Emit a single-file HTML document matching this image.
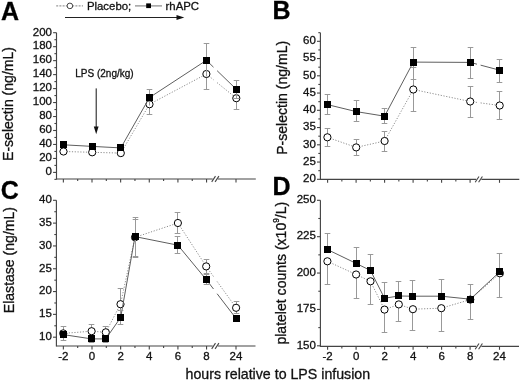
<!DOCTYPE html>
<html><head><meta charset="utf-8"><style>
html,body{margin:0;padding:0;background:#fff;width:520px;height:380px;overflow:hidden;}
body{position:relative;font-family:"Liberation Sans", sans-serif;}
text{stroke:#111;stroke-width:0.3px;paint-order:stroke;}
svg{filter:grayscale(1);}
</style></head><body>
<svg width="520" height="380" viewBox="0 0 520 380" style="position:absolute;left:0;top:0">
<g font-family='"Liberation Sans", sans-serif' fill="#111">
<line x1="56.5" y1="32.7" x2="56.5" y2="179.57" stroke="#444" stroke-width="1.15" />
<line x1="53.1" y1="172.4" x2="56.5" y2="172.4" stroke="#444" stroke-width="1.1" />
<text x="52" y="175.2" font-size="11.5" text-anchor="end" font-weight="normal" >0</text>
<line x1="53.1" y1="158.43" x2="56.5" y2="158.43" stroke="#444" stroke-width="1.1" />
<text x="52" y="161.23" font-size="11.5" text-anchor="end" font-weight="normal" >20</text>
<line x1="53.1" y1="144.46" x2="56.5" y2="144.46" stroke="#444" stroke-width="1.1" />
<text x="52" y="147.26" font-size="11.5" text-anchor="end" font-weight="normal" >40</text>
<line x1="53.1" y1="130.49" x2="56.5" y2="130.49" stroke="#444" stroke-width="1.1" />
<text x="52" y="133.29" font-size="11.5" text-anchor="end" font-weight="normal" >60</text>
<line x1="53.1" y1="116.52" x2="56.5" y2="116.52" stroke="#444" stroke-width="1.1" />
<text x="52" y="119.32" font-size="11.5" text-anchor="end" font-weight="normal" >80</text>
<line x1="53.1" y1="102.55" x2="56.5" y2="102.55" stroke="#444" stroke-width="1.1" />
<text x="52" y="105.35" font-size="11.5" text-anchor="end" font-weight="normal" >100</text>
<line x1="53.1" y1="88.58" x2="56.5" y2="88.58" stroke="#444" stroke-width="1.1" />
<text x="52" y="91.38" font-size="11.5" text-anchor="end" font-weight="normal" >120</text>
<line x1="53.1" y1="74.61" x2="56.5" y2="74.61" stroke="#444" stroke-width="1.1" />
<text x="52" y="77.41" font-size="11.5" text-anchor="end" font-weight="normal" >140</text>
<line x1="53.1" y1="60.64" x2="56.5" y2="60.64" stroke="#444" stroke-width="1.1" />
<text x="52" y="63.44" font-size="11.5" text-anchor="end" font-weight="normal" >160</text>
<line x1="53.1" y1="46.67" x2="56.5" y2="46.67" stroke="#444" stroke-width="1.1" />
<text x="52" y="49.47" font-size="11.5" text-anchor="end" font-weight="normal" >180</text>
<line x1="53.1" y1="32.7" x2="56.5" y2="32.7" stroke="#444" stroke-width="1.1" />
<text x="52" y="35.5" font-size="11.5" text-anchor="end" font-weight="normal" >200</text>
<line x1="54.4" y1="179.39" x2="56.5" y2="179.39" stroke="#444" stroke-width="1.1" />
<line x1="54.4" y1="165.41" x2="56.5" y2="165.41" stroke="#444" stroke-width="1.1" />
<line x1="54.4" y1="151.44" x2="56.5" y2="151.44" stroke="#444" stroke-width="1.1" />
<line x1="54.4" y1="137.48" x2="56.5" y2="137.48" stroke="#444" stroke-width="1.1" />
<line x1="54.4" y1="123.5" x2="56.5" y2="123.5" stroke="#444" stroke-width="1.1" />
<line x1="54.4" y1="109.53" x2="56.5" y2="109.53" stroke="#444" stroke-width="1.1" />
<line x1="54.4" y1="95.56" x2="56.5" y2="95.56" stroke="#444" stroke-width="1.1" />
<line x1="54.4" y1="81.59" x2="56.5" y2="81.59" stroke="#444" stroke-width="1.1" />
<line x1="54.4" y1="67.62" x2="56.5" y2="67.62" stroke="#444" stroke-width="1.1" />
<line x1="54.4" y1="53.66" x2="56.5" y2="53.66" stroke="#444" stroke-width="1.1" />
<line x1="54.4" y1="39.69" x2="56.5" y2="39.69" stroke="#444" stroke-width="1.1" />
<line x1="56.5" y1="179" x2="212.7" y2="179" stroke="#444" stroke-width="1.15" />
<line x1="217.9" y1="179" x2="255.8" y2="179" stroke="#444" stroke-width="1.15" />
<line x1="211.7" y1="181.9" x2="215.5" y2="176.1" stroke="#444" stroke-width="1.1" />
<line x1="215.1" y1="181.9" x2="218.9" y2="176.1" stroke="#444" stroke-width="1.1" />
<line x1="63.36" y1="179" x2="63.36" y2="182.4" stroke="#444" stroke-width="1.1" />
<line x1="77.68" y1="179" x2="77.68" y2="181" stroke="#444" stroke-width="1.1" />
<line x1="92" y1="179" x2="92" y2="182.4" stroke="#444" stroke-width="1.1" />
<line x1="106.32" y1="179" x2="106.32" y2="181" stroke="#444" stroke-width="1.1" />
<line x1="120.64" y1="179" x2="120.64" y2="182.4" stroke="#444" stroke-width="1.1" />
<line x1="134.96" y1="179" x2="134.96" y2="181" stroke="#444" stroke-width="1.1" />
<line x1="149.28" y1="179" x2="149.28" y2="182.4" stroke="#444" stroke-width="1.1" />
<line x1="163.6" y1="179" x2="163.6" y2="181" stroke="#444" stroke-width="1.1" />
<line x1="177.92" y1="179" x2="177.92" y2="182.4" stroke="#444" stroke-width="1.1" />
<line x1="192.24" y1="179" x2="192.24" y2="181" stroke="#444" stroke-width="1.1" />
<line x1="206.56" y1="179" x2="206.56" y2="182.4" stroke="#444" stroke-width="1.1" />
<line x1="236" y1="179" x2="236" y2="182.4" stroke="#444" stroke-width="1.1" />
<line x1="63.5" y1="151.5" x2="92.2" y2="152.3" stroke="#8c8c8c" stroke-width="1" stroke-dasharray="1.2 1.6"/>
<line x1="92.2" y1="152.3" x2="120.8" y2="153.1" stroke="#8c8c8c" stroke-width="1" stroke-dasharray="1.2 1.6"/>
<line x1="120.8" y1="153.1" x2="149.5" y2="104.25" stroke="#8c8c8c" stroke-width="1" stroke-dasharray="1.2 1.6"/>
<line x1="149.5" y1="104.25" x2="206.4" y2="74" stroke="#8c8c8c" stroke-width="1" stroke-dasharray="1.2 1.6"/>
<line x1="206.4" y1="74" x2="213.5" y2="79.75" stroke="#8c8c8c" stroke-width="1" stroke-dasharray="1.2 1.6"/>
<line x1="217.1" y1="82.66" x2="236.3" y2="98.2" stroke="#8c8c8c" stroke-width="1" stroke-dasharray="1.2 1.6"/>
<line x1="149.5" y1="94.5" x2="149.5" y2="114.5" stroke="#999" stroke-width="1" />
<line x1="146.7" y1="94.5" x2="152.3" y2="94.5" stroke="#999" stroke-width="1" />
<line x1="146.7" y1="114.5" x2="152.3" y2="114.5" stroke="#999" stroke-width="1" />
<line x1="206.5" y1="58.5" x2="206.5" y2="89.5" stroke="#999" stroke-width="1" />
<line x1="203.7" y1="58.5" x2="209.3" y2="58.5" stroke="#999" stroke-width="1" />
<line x1="203.7" y1="89.5" x2="209.3" y2="89.5" stroke="#999" stroke-width="1" />
<line x1="236.5" y1="86.5" x2="236.5" y2="109.5" stroke="#999" stroke-width="1" />
<line x1="233.7" y1="86.5" x2="239.3" y2="86.5" stroke="#999" stroke-width="1" />
<line x1="233.7" y1="109.5" x2="239.3" y2="109.5" stroke="#999" stroke-width="1" />
<circle cx="63.5" cy="151.5" r="3.6" fill="#fff" stroke="#000" stroke-width="1"/>
<circle cx="92.2" cy="152.3" r="3.6" fill="#fff" stroke="#000" stroke-width="1"/>
<circle cx="120.8" cy="153.1" r="3.6" fill="#fff" stroke="#000" stroke-width="1"/>
<circle cx="149.5" cy="104.25" r="3.6" fill="#fff" stroke="#000" stroke-width="1"/>
<circle cx="206.4" cy="74" r="3.6" fill="#fff" stroke="#000" stroke-width="1"/>
<circle cx="236.3" cy="98.2" r="3.6" fill="#fff" stroke="#000" stroke-width="1"/>
<line x1="63.5" y1="144.8" x2="92.2" y2="146.4" stroke="#5e5e5e" stroke-width="1" />
<line x1="92.2" y1="146.4" x2="120.8" y2="147.9" stroke="#5e5e5e" stroke-width="1" />
<line x1="120.8" y1="147.9" x2="149.5" y2="97.5" stroke="#5e5e5e" stroke-width="1" />
<line x1="149.5" y1="97.5" x2="206.4" y2="60.3" stroke="#5e5e5e" stroke-width="1" />
<line x1="206.4" y1="60.3" x2="213.5" y2="67.19" stroke="#5e5e5e" stroke-width="1" />
<line x1="217.1" y1="70.68" x2="236.3" y2="89.3" stroke="#5e5e5e" stroke-width="1" />
<line x1="149.5" y1="89.5" x2="149.5" y2="105.5" stroke="#999" stroke-width="1" />
<line x1="146.7" y1="89.5" x2="152.3" y2="89.5" stroke="#999" stroke-width="1" />
<line x1="206.5" y1="43.5" x2="206.5" y2="76.5" stroke="#999" stroke-width="1" />
<line x1="203.7" y1="43.5" x2="209.3" y2="43.5" stroke="#999" stroke-width="1" />
<line x1="236.5" y1="80.5" x2="236.5" y2="98.5" stroke="#999" stroke-width="1" />
<line x1="233.7" y1="80.5" x2="239.3" y2="80.5" stroke="#999" stroke-width="1" />
<line x1="233.7" y1="98.5" x2="239.3" y2="98.5" stroke="#999" stroke-width="1" />
<rect x="60" y="141" width="7" height="7" fill="#000"/>
<rect x="89" y="143" width="7" height="7" fill="#000"/>
<rect x="117" y="144" width="7" height="7" fill="#000"/>
<rect x="146" y="94" width="7" height="7" fill="#000"/>
<rect x="203" y="57" width="7" height="7" fill="#000"/>
<rect x="233" y="86" width="7" height="7" fill="#000"/>
<text x="75.3" y="76.7" font-size="10" text-anchor="start" font-weight="normal" >LPS (2ng/kg)</text>
<line x1="96.2" y1="88.4" x2="96.2" y2="128" stroke="#111" stroke-width="1" />
<path d="M93.8,126.4 L98.6,126.4 L96.2,134.2 Z" fill="#111"/>
<line x1="320.4" y1="32.68" x2="320.4" y2="179.97" stroke="#444" stroke-width="1.15" />
<line x1="317" y1="179.3" x2="320.4" y2="179.3" stroke="#444" stroke-width="1.1" />
<text x="315.9" y="182.1" font-size="11.5" text-anchor="end" font-weight="normal" >20</text>
<line x1="317" y1="162.05" x2="320.4" y2="162.05" stroke="#444" stroke-width="1.1" />
<text x="315.9" y="164.85" font-size="11.5" text-anchor="end" font-weight="normal" >25</text>
<line x1="317" y1="144.8" x2="320.4" y2="144.8" stroke="#444" stroke-width="1.1" />
<text x="315.9" y="147.6" font-size="11.5" text-anchor="end" font-weight="normal" >30</text>
<line x1="317" y1="127.55" x2="320.4" y2="127.55" stroke="#444" stroke-width="1.1" />
<text x="315.9" y="130.35" font-size="11.5" text-anchor="end" font-weight="normal" >35</text>
<line x1="317" y1="110.3" x2="320.4" y2="110.3" stroke="#444" stroke-width="1.1" />
<text x="315.9" y="113.1" font-size="11.5" text-anchor="end" font-weight="normal" >40</text>
<line x1="317" y1="93.05" x2="320.4" y2="93.05" stroke="#444" stroke-width="1.1" />
<text x="315.9" y="95.85" font-size="11.5" text-anchor="end" font-weight="normal" >45</text>
<line x1="317" y1="75.8" x2="320.4" y2="75.8" stroke="#444" stroke-width="1.1" />
<text x="315.9" y="78.6" font-size="11.5" text-anchor="end" font-weight="normal" >50</text>
<line x1="317" y1="58.55" x2="320.4" y2="58.55" stroke="#444" stroke-width="1.1" />
<text x="315.9" y="61.35" font-size="11.5" text-anchor="end" font-weight="normal" >55</text>
<line x1="317" y1="41.3" x2="320.4" y2="41.3" stroke="#444" stroke-width="1.1" />
<text x="315.9" y="44.1" font-size="11.5" text-anchor="end" font-weight="normal" >60</text>
<line x1="318.3" y1="170.68" x2="320.4" y2="170.68" stroke="#444" stroke-width="1.1" />
<line x1="318.3" y1="153.43" x2="320.4" y2="153.43" stroke="#444" stroke-width="1.1" />
<line x1="318.3" y1="136.18" x2="320.4" y2="136.18" stroke="#444" stroke-width="1.1" />
<line x1="318.3" y1="118.93" x2="320.4" y2="118.93" stroke="#444" stroke-width="1.1" />
<line x1="318.3" y1="101.68" x2="320.4" y2="101.68" stroke="#444" stroke-width="1.1" />
<line x1="318.3" y1="84.43" x2="320.4" y2="84.43" stroke="#444" stroke-width="1.1" />
<line x1="318.3" y1="67.18" x2="320.4" y2="67.18" stroke="#444" stroke-width="1.1" />
<line x1="318.3" y1="49.93" x2="320.4" y2="49.93" stroke="#444" stroke-width="1.1" />
<line x1="318.3" y1="32.68" x2="320.4" y2="32.68" stroke="#444" stroke-width="1.1" />
<line x1="320.4" y1="179.4" x2="476.2" y2="179.4" stroke="#444" stroke-width="1.15" />
<line x1="481.4" y1="179.4" x2="519.3" y2="179.4" stroke="#444" stroke-width="1.15" />
<line x1="475.2" y1="182.3" x2="479" y2="176.5" stroke="#444" stroke-width="1.1" />
<line x1="478.6" y1="182.3" x2="482.4" y2="176.5" stroke="#444" stroke-width="1.1" />
<line x1="327.6" y1="179.4" x2="327.6" y2="182.8" stroke="#444" stroke-width="1.1" />
<line x1="341.85" y1="179.4" x2="341.85" y2="181.4" stroke="#444" stroke-width="1.1" />
<line x1="356.1" y1="179.4" x2="356.1" y2="182.8" stroke="#444" stroke-width="1.1" />
<line x1="370.35" y1="179.4" x2="370.35" y2="181.4" stroke="#444" stroke-width="1.1" />
<line x1="384.6" y1="179.4" x2="384.6" y2="182.8" stroke="#444" stroke-width="1.1" />
<line x1="398.85" y1="179.4" x2="398.85" y2="181.4" stroke="#444" stroke-width="1.1" />
<line x1="413.1" y1="179.4" x2="413.1" y2="182.8" stroke="#444" stroke-width="1.1" />
<line x1="427.35" y1="179.4" x2="427.35" y2="181.4" stroke="#444" stroke-width="1.1" />
<line x1="441.6" y1="179.4" x2="441.6" y2="182.8" stroke="#444" stroke-width="1.1" />
<line x1="455.85" y1="179.4" x2="455.85" y2="181.4" stroke="#444" stroke-width="1.1" />
<line x1="470.1" y1="179.4" x2="470.1" y2="182.8" stroke="#444" stroke-width="1.1" />
<line x1="499.5" y1="179.4" x2="499.5" y2="182.8" stroke="#444" stroke-width="1.1" />
<line x1="327.4" y1="137.3" x2="356.2" y2="147.4" stroke="#8c8c8c" stroke-width="1" stroke-dasharray="1.2 1.6"/>
<line x1="356.2" y1="147.4" x2="384.6" y2="141" stroke="#8c8c8c" stroke-width="1" stroke-dasharray="1.2 1.6"/>
<line x1="384.6" y1="141" x2="413.3" y2="89.5" stroke="#8c8c8c" stroke-width="1" stroke-dasharray="1.2 1.6"/>
<line x1="413.3" y1="89.5" x2="470.2" y2="101.5" stroke="#8c8c8c" stroke-width="1" stroke-dasharray="1.2 1.6"/>
<line x1="470.2" y1="101.5" x2="477" y2="102.42" stroke="#8c8c8c" stroke-width="1" stroke-dasharray="1.2 1.6"/>
<line x1="480.6" y1="102.91" x2="499.7" y2="105.5" stroke="#8c8c8c" stroke-width="1" stroke-dasharray="1.2 1.6"/>
<line x1="327.5" y1="128.5" x2="327.5" y2="146.5" stroke="#999" stroke-width="1" />
<line x1="324.7" y1="128.5" x2="330.3" y2="128.5" stroke="#999" stroke-width="1" />
<line x1="324.7" y1="146.5" x2="330.3" y2="146.5" stroke="#999" stroke-width="1" />
<line x1="356.5" y1="139.5" x2="356.5" y2="155.5" stroke="#999" stroke-width="1" />
<line x1="353.7" y1="139.5" x2="359.3" y2="139.5" stroke="#999" stroke-width="1" />
<line x1="353.7" y1="155.5" x2="359.3" y2="155.5" stroke="#999" stroke-width="1" />
<line x1="384.5" y1="131.5" x2="384.5" y2="151.5" stroke="#999" stroke-width="1" />
<line x1="381.7" y1="131.5" x2="387.3" y2="131.5" stroke="#999" stroke-width="1" />
<line x1="381.7" y1="151.5" x2="387.3" y2="151.5" stroke="#999" stroke-width="1" />
<line x1="413.5" y1="67.5" x2="413.5" y2="111.5" stroke="#999" stroke-width="1" />
<line x1="410.7" y1="67.5" x2="416.3" y2="67.5" stroke="#999" stroke-width="1" />
<line x1="410.7" y1="111.5" x2="416.3" y2="111.5" stroke="#999" stroke-width="1" />
<line x1="470.5" y1="86.5" x2="470.5" y2="117.5" stroke="#999" stroke-width="1" />
<line x1="467.7" y1="86.5" x2="473.3" y2="86.5" stroke="#999" stroke-width="1" />
<line x1="467.7" y1="117.5" x2="473.3" y2="117.5" stroke="#999" stroke-width="1" />
<line x1="499.5" y1="91.5" x2="499.5" y2="119.5" stroke="#999" stroke-width="1" />
<line x1="496.7" y1="91.5" x2="502.3" y2="91.5" stroke="#999" stroke-width="1" />
<line x1="496.7" y1="119.5" x2="502.3" y2="119.5" stroke="#999" stroke-width="1" />
<circle cx="327.4" cy="137.3" r="3.6" fill="#fff" stroke="#000" stroke-width="1"/>
<circle cx="356.2" cy="147.4" r="3.6" fill="#fff" stroke="#000" stroke-width="1"/>
<circle cx="384.6" cy="141" r="3.6" fill="#fff" stroke="#000" stroke-width="1"/>
<circle cx="413.3" cy="89.5" r="3.6" fill="#fff" stroke="#000" stroke-width="1"/>
<circle cx="470.2" cy="101.5" r="3.6" fill="#fff" stroke="#000" stroke-width="1"/>
<circle cx="499.7" cy="105.5" r="3.6" fill="#fff" stroke="#000" stroke-width="1"/>
<line x1="327.4" y1="104.6" x2="356.2" y2="111.6" stroke="#5e5e5e" stroke-width="1" />
<line x1="356.2" y1="111.6" x2="384.6" y2="116.2" stroke="#5e5e5e" stroke-width="1" />
<line x1="384.6" y1="116.2" x2="413.3" y2="62.1" stroke="#5e5e5e" stroke-width="1" />
<line x1="413.3" y1="62.1" x2="470.2" y2="62.4" stroke="#5e5e5e" stroke-width="1" />
<line x1="470.2" y1="62.4" x2="477" y2="64.2" stroke="#5e5e5e" stroke-width="1" />
<line x1="480.6" y1="65.15" x2="499.7" y2="70.2" stroke="#5e5e5e" stroke-width="1" />
<line x1="327.5" y1="94.5" x2="327.5" y2="114.5" stroke="#999" stroke-width="1" />
<line x1="324.7" y1="94.5" x2="330.3" y2="94.5" stroke="#999" stroke-width="1" />
<line x1="324.7" y1="114.5" x2="330.3" y2="114.5" stroke="#999" stroke-width="1" />
<line x1="356.5" y1="100.5" x2="356.5" y2="121.5" stroke="#999" stroke-width="1" />
<line x1="353.7" y1="100.5" x2="359.3" y2="100.5" stroke="#999" stroke-width="1" />
<line x1="353.7" y1="121.5" x2="359.3" y2="121.5" stroke="#999" stroke-width="1" />
<line x1="384.5" y1="108.5" x2="384.5" y2="123.5" stroke="#999" stroke-width="1" />
<line x1="381.7" y1="108.5" x2="387.3" y2="108.5" stroke="#999" stroke-width="1" />
<line x1="381.7" y1="123.5" x2="387.3" y2="123.5" stroke="#999" stroke-width="1" />
<line x1="413.5" y1="47.5" x2="413.5" y2="79.5" stroke="#999" stroke-width="1" />
<line x1="410.7" y1="47.5" x2="416.3" y2="47.5" stroke="#999" stroke-width="1" />
<line x1="410.7" y1="79.5" x2="416.3" y2="79.5" stroke="#999" stroke-width="1" />
<line x1="470.5" y1="47.5" x2="470.5" y2="78.5" stroke="#999" stroke-width="1" />
<line x1="467.7" y1="47.5" x2="473.3" y2="47.5" stroke="#999" stroke-width="1" />
<line x1="467.7" y1="78.5" x2="473.3" y2="78.5" stroke="#999" stroke-width="1" />
<line x1="499.5" y1="59.5" x2="499.5" y2="82.5" stroke="#999" stroke-width="1" />
<line x1="496.7" y1="59.5" x2="502.3" y2="59.5" stroke="#999" stroke-width="1" />
<line x1="496.7" y1="82.5" x2="502.3" y2="82.5" stroke="#999" stroke-width="1" />
<rect x="324" y="101" width="7" height="7" fill="#000"/>
<rect x="353" y="108" width="7" height="7" fill="#000"/>
<rect x="381" y="113" width="7" height="7" fill="#000"/>
<rect x="410" y="59" width="7" height="7" fill="#000"/>
<rect x="467" y="59" width="7" height="7" fill="#000"/>
<rect x="496" y="67" width="7" height="7" fill="#000"/>
<line x1="56.4" y1="200.31" x2="56.4" y2="346.57" stroke="#444" stroke-width="1.15" />
<line x1="53" y1="337.2" x2="56.4" y2="337.2" stroke="#444" stroke-width="1.1" />
<text x="51.9" y="340" font-size="11.5" text-anchor="end" font-weight="normal" >10</text>
<line x1="53" y1="314.38" x2="56.4" y2="314.38" stroke="#444" stroke-width="1.1" />
<text x="51.9" y="317.19" font-size="11.5" text-anchor="end" font-weight="normal" >15</text>
<line x1="53" y1="291.57" x2="56.4" y2="291.57" stroke="#444" stroke-width="1.1" />
<text x="51.9" y="294.37" font-size="11.5" text-anchor="end" font-weight="normal" >20</text>
<line x1="53" y1="268.75" x2="56.4" y2="268.75" stroke="#444" stroke-width="1.1" />
<text x="51.9" y="271.56" font-size="11.5" text-anchor="end" font-weight="normal" >25</text>
<line x1="53" y1="245.94" x2="56.4" y2="245.94" stroke="#444" stroke-width="1.1" />
<text x="51.9" y="248.74" font-size="11.5" text-anchor="end" font-weight="normal" >30</text>
<line x1="53" y1="223.12" x2="56.4" y2="223.12" stroke="#444" stroke-width="1.1" />
<text x="51.9" y="225.93" font-size="11.5" text-anchor="end" font-weight="normal" >35</text>
<line x1="53" y1="200.31" x2="56.4" y2="200.31" stroke="#444" stroke-width="1.1" />
<text x="51.9" y="203.11" font-size="11.5" text-anchor="end" font-weight="normal" >40</text>
<line x1="54.3" y1="325.79" x2="56.4" y2="325.79" stroke="#444" stroke-width="1.1" />
<line x1="54.3" y1="302.98" x2="56.4" y2="302.98" stroke="#444" stroke-width="1.1" />
<line x1="54.3" y1="280.16" x2="56.4" y2="280.16" stroke="#444" stroke-width="1.1" />
<line x1="54.3" y1="257.35" x2="56.4" y2="257.35" stroke="#444" stroke-width="1.1" />
<line x1="54.3" y1="234.53" x2="56.4" y2="234.53" stroke="#444" stroke-width="1.1" />
<line x1="54.3" y1="211.72" x2="56.4" y2="211.72" stroke="#444" stroke-width="1.1" />
<line x1="56.4" y1="346" x2="212.7" y2="346" stroke="#444" stroke-width="1.15" />
<line x1="217.9" y1="346" x2="255.5" y2="346" stroke="#444" stroke-width="1.15" />
<line x1="211.7" y1="348.9" x2="215.5" y2="343.1" stroke="#444" stroke-width="1.1" />
<line x1="215.1" y1="348.9" x2="218.9" y2="343.1" stroke="#444" stroke-width="1.1" />
<line x1="63.36" y1="346" x2="63.36" y2="349.4" stroke="#444" stroke-width="1.1" />
<line x1="77.68" y1="346" x2="77.68" y2="348" stroke="#444" stroke-width="1.1" />
<line x1="92" y1="346" x2="92" y2="349.4" stroke="#444" stroke-width="1.1" />
<line x1="106.32" y1="346" x2="106.32" y2="348" stroke="#444" stroke-width="1.1" />
<line x1="120.64" y1="346" x2="120.64" y2="349.4" stroke="#444" stroke-width="1.1" />
<line x1="134.96" y1="346" x2="134.96" y2="348" stroke="#444" stroke-width="1.1" />
<line x1="149.28" y1="346" x2="149.28" y2="349.4" stroke="#444" stroke-width="1.1" />
<line x1="163.6" y1="346" x2="163.6" y2="348" stroke="#444" stroke-width="1.1" />
<line x1="177.92" y1="346" x2="177.92" y2="349.4" stroke="#444" stroke-width="1.1" />
<line x1="192.24" y1="346" x2="192.24" y2="348" stroke="#444" stroke-width="1.1" />
<line x1="206.56" y1="346" x2="206.56" y2="349.4" stroke="#444" stroke-width="1.1" />
<line x1="236" y1="346" x2="236" y2="349.4" stroke="#444" stroke-width="1.1" />
<text x="63.36" y="360" font-size="11.5" text-anchor="middle" font-weight="normal" >-2</text>
<text x="92" y="360" font-size="11.5" text-anchor="middle" font-weight="normal" >0</text>
<text x="120.64" y="360" font-size="11.5" text-anchor="middle" font-weight="normal" >2</text>
<text x="149.28" y="360" font-size="11.5" text-anchor="middle" font-weight="normal" >4</text>
<text x="177.92" y="360" font-size="11.5" text-anchor="middle" font-weight="normal" >6</text>
<text x="206.56" y="360" font-size="11.5" text-anchor="middle" font-weight="normal" >8</text>
<text x="236" y="360" font-size="11.5" text-anchor="middle" font-weight="normal" >24</text>
<line x1="63.2" y1="333.4" x2="91.6" y2="331.2" stroke="#8c8c8c" stroke-width="1" stroke-dasharray="1.2 1.6"/>
<line x1="91.6" y1="331.2" x2="105.8" y2="332.3" stroke="#8c8c8c" stroke-width="1" stroke-dasharray="1.2 1.6"/>
<line x1="105.8" y1="332.3" x2="120.5" y2="304.2" stroke="#8c8c8c" stroke-width="1" stroke-dasharray="1.2 1.6"/>
<line x1="120.5" y1="304.2" x2="135" y2="237.3" stroke="#8c8c8c" stroke-width="1" stroke-dasharray="1.2 1.6"/>
<line x1="135" y1="237.3" x2="177.9" y2="223" stroke="#8c8c8c" stroke-width="1" stroke-dasharray="1.2 1.6"/>
<line x1="177.9" y1="223" x2="206.2" y2="266.4" stroke="#8c8c8c" stroke-width="1" stroke-dasharray="1.2 1.6"/>
<line x1="206.2" y1="266.4" x2="213.5" y2="276.51" stroke="#8c8c8c" stroke-width="1" stroke-dasharray="1.2 1.6"/>
<line x1="217.1" y1="281.49" x2="236.1" y2="307.8" stroke="#8c8c8c" stroke-width="1" stroke-dasharray="1.2 1.6"/>
<line x1="63.5" y1="326.5" x2="63.5" y2="340.5" stroke="#999" stroke-width="1" />
<line x1="60.7" y1="326.5" x2="66.3" y2="326.5" stroke="#999" stroke-width="1" />
<line x1="60.7" y1="340.5" x2="66.3" y2="340.5" stroke="#999" stroke-width="1" />
<line x1="91.5" y1="324.5" x2="91.5" y2="337.5" stroke="#999" stroke-width="1" />
<line x1="88.7" y1="324.5" x2="94.3" y2="324.5" stroke="#999" stroke-width="1" />
<line x1="88.7" y1="337.5" x2="94.3" y2="337.5" stroke="#999" stroke-width="1" />
<line x1="105.5" y1="326.5" x2="105.5" y2="337.5" stroke="#999" stroke-width="1" />
<line x1="102.7" y1="326.5" x2="108.3" y2="326.5" stroke="#999" stroke-width="1" />
<line x1="102.7" y1="337.5" x2="108.3" y2="337.5" stroke="#999" stroke-width="1" />
<line x1="120.5" y1="288.5" x2="120.5" y2="320.5" stroke="#999" stroke-width="1" />
<line x1="117.7" y1="288.5" x2="123.3" y2="288.5" stroke="#999" stroke-width="1" />
<line x1="117.7" y1="320.5" x2="123.3" y2="320.5" stroke="#999" stroke-width="1" />
<line x1="135.5" y1="219.5" x2="135.5" y2="257.5" stroke="#999" stroke-width="1" />
<line x1="132.7" y1="219.5" x2="138.3" y2="219.5" stroke="#999" stroke-width="1" />
<line x1="132.7" y1="257.5" x2="138.3" y2="257.5" stroke="#999" stroke-width="1" />
<line x1="177.5" y1="212.5" x2="177.5" y2="233.5" stroke="#999" stroke-width="1" />
<line x1="174.7" y1="212.5" x2="180.3" y2="212.5" stroke="#999" stroke-width="1" />
<line x1="174.7" y1="233.5" x2="180.3" y2="233.5" stroke="#999" stroke-width="1" />
<line x1="206.5" y1="259.5" x2="206.5" y2="273.5" stroke="#999" stroke-width="1" />
<line x1="203.7" y1="259.5" x2="209.3" y2="259.5" stroke="#999" stroke-width="1" />
<line x1="203.7" y1="273.5" x2="209.3" y2="273.5" stroke="#999" stroke-width="1" />
<line x1="236.5" y1="301.5" x2="236.5" y2="313.5" stroke="#999" stroke-width="1" />
<line x1="233.7" y1="301.5" x2="239.3" y2="301.5" stroke="#999" stroke-width="1" />
<line x1="233.7" y1="313.5" x2="239.3" y2="313.5" stroke="#999" stroke-width="1" />
<circle cx="63.2" cy="333.4" r="3.6" fill="#fff" stroke="#000" stroke-width="1"/>
<circle cx="91.6" cy="331.2" r="3.6" fill="#fff" stroke="#000" stroke-width="1"/>
<circle cx="105.8" cy="332.3" r="3.6" fill="#fff" stroke="#000" stroke-width="1"/>
<circle cx="120.5" cy="304.2" r="3.6" fill="#fff" stroke="#000" stroke-width="1"/>
<circle cx="135" cy="237.3" r="3.6" fill="#fff" stroke="#000" stroke-width="1"/>
<circle cx="177.9" cy="223" r="3.6" fill="#fff" stroke="#000" stroke-width="1"/>
<circle cx="206.2" cy="266.4" r="3.6" fill="#fff" stroke="#000" stroke-width="1"/>
<circle cx="236.1" cy="307.8" r="3.6" fill="#fff" stroke="#000" stroke-width="1"/>
<line x1="63.2" y1="334.6" x2="91.6" y2="338.9" stroke="#5e5e5e" stroke-width="1" />
<line x1="91.6" y1="338.9" x2="105.8" y2="338.9" stroke="#5e5e5e" stroke-width="1" />
<line x1="105.8" y1="338.9" x2="120.7" y2="317.4" stroke="#5e5e5e" stroke-width="1" />
<line x1="120.7" y1="317.4" x2="135" y2="236.6" stroke="#5e5e5e" stroke-width="1" />
<line x1="135" y1="236.6" x2="177.9" y2="245.2" stroke="#5e5e5e" stroke-width="1" />
<line x1="177.9" y1="245.2" x2="206.2" y2="279.5" stroke="#5e5e5e" stroke-width="1" />
<line x1="206.2" y1="279.5" x2="213.5" y2="289.01" stroke="#5e5e5e" stroke-width="1" />
<line x1="217.1" y1="293.71" x2="236.2" y2="318.6" stroke="#5e5e5e" stroke-width="1" />
<line x1="91.5" y1="335.5" x2="91.5" y2="342.5" stroke="#999" stroke-width="1" />
<line x1="88.7" y1="335.5" x2="94.3" y2="335.5" stroke="#999" stroke-width="1" />
<line x1="88.7" y1="342.5" x2="94.3" y2="342.5" stroke="#999" stroke-width="1" />
<line x1="105.5" y1="335.5" x2="105.5" y2="342.5" stroke="#999" stroke-width="1" />
<line x1="102.7" y1="335.5" x2="108.3" y2="335.5" stroke="#999" stroke-width="1" />
<line x1="102.7" y1="342.5" x2="108.3" y2="342.5" stroke="#999" stroke-width="1" />
<line x1="120.5" y1="310.5" x2="120.5" y2="324.5" stroke="#999" stroke-width="1" />
<line x1="117.7" y1="310.5" x2="123.3" y2="310.5" stroke="#999" stroke-width="1" />
<line x1="117.7" y1="324.5" x2="123.3" y2="324.5" stroke="#999" stroke-width="1" />
<line x1="135.5" y1="217.5" x2="135.5" y2="256.5" stroke="#999" stroke-width="1" />
<line x1="132.7" y1="217.5" x2="138.3" y2="217.5" stroke="#999" stroke-width="1" />
<line x1="132.7" y1="256.5" x2="138.3" y2="256.5" stroke="#999" stroke-width="1" />
<line x1="177.5" y1="236.5" x2="177.5" y2="253.5" stroke="#999" stroke-width="1" />
<line x1="174.7" y1="236.5" x2="180.3" y2="236.5" stroke="#999" stroke-width="1" />
<line x1="174.7" y1="253.5" x2="180.3" y2="253.5" stroke="#999" stroke-width="1" />
<line x1="206.5" y1="274.5" x2="206.5" y2="284.5" stroke="#999" stroke-width="1" />
<line x1="203.7" y1="274.5" x2="209.3" y2="274.5" stroke="#999" stroke-width="1" />
<line x1="203.7" y1="284.5" x2="209.3" y2="284.5" stroke="#999" stroke-width="1" />
<line x1="236.5" y1="315.5" x2="236.5" y2="321.5" stroke="#999" stroke-width="1" />
<line x1="233.7" y1="315.5" x2="239.3" y2="315.5" stroke="#999" stroke-width="1" />
<line x1="233.7" y1="321.5" x2="239.3" y2="321.5" stroke="#999" stroke-width="1" />
<rect x="60" y="331" width="7" height="7" fill="#000"/>
<rect x="88" y="335" width="7" height="7" fill="#000"/>
<rect x="102" y="335" width="7" height="7" fill="#000"/>
<rect x="117" y="314" width="7" height="7" fill="#000"/>
<rect x="132" y="233" width="7" height="7" fill="#000"/>
<rect x="174" y="242" width="7" height="7" fill="#000"/>
<rect x="203" y="276" width="7" height="7" fill="#000"/>
<rect x="233" y="315" width="7" height="7" fill="#000"/>
<line x1="320.4" y1="200.3" x2="320.4" y2="346.97" stroke="#444" stroke-width="1.15" />
<line x1="317" y1="345.8" x2="320.4" y2="345.8" stroke="#444" stroke-width="1.1" />
<text x="315.9" y="348.6" font-size="11.5" text-anchor="end" font-weight="normal" >150</text>
<line x1="317" y1="309.43" x2="320.4" y2="309.43" stroke="#444" stroke-width="1.1" />
<text x="315.9" y="312.23" font-size="11.5" text-anchor="end" font-weight="normal" >175</text>
<line x1="317" y1="273.05" x2="320.4" y2="273.05" stroke="#444" stroke-width="1.1" />
<text x="315.9" y="275.85" font-size="11.5" text-anchor="end" font-weight="normal" >200</text>
<line x1="317" y1="236.68" x2="320.4" y2="236.68" stroke="#444" stroke-width="1.1" />
<text x="315.9" y="239.48" font-size="11.5" text-anchor="end" font-weight="normal" >225</text>
<line x1="317" y1="200.3" x2="320.4" y2="200.3" stroke="#444" stroke-width="1.1" />
<text x="315.9" y="203.1" font-size="11.5" text-anchor="end" font-weight="normal" >250</text>
<line x1="318.3" y1="327.61" x2="320.4" y2="327.61" stroke="#444" stroke-width="1.1" />
<line x1="318.3" y1="291.24" x2="320.4" y2="291.24" stroke="#444" stroke-width="1.1" />
<line x1="318.3" y1="254.86" x2="320.4" y2="254.86" stroke="#444" stroke-width="1.1" />
<line x1="318.3" y1="218.49" x2="320.4" y2="218.49" stroke="#444" stroke-width="1.1" />
<line x1="320.4" y1="346.4" x2="476.2" y2="346.4" stroke="#444" stroke-width="1.15" />
<line x1="481.4" y1="346.4" x2="519" y2="346.4" stroke="#444" stroke-width="1.15" />
<line x1="475.2" y1="349.3" x2="479" y2="343.5" stroke="#444" stroke-width="1.1" />
<line x1="478.6" y1="349.3" x2="482.4" y2="343.5" stroke="#444" stroke-width="1.1" />
<line x1="327.6" y1="346.4" x2="327.6" y2="349.8" stroke="#444" stroke-width="1.1" />
<line x1="341.85" y1="346.4" x2="341.85" y2="348.4" stroke="#444" stroke-width="1.1" />
<line x1="356.1" y1="346.4" x2="356.1" y2="349.8" stroke="#444" stroke-width="1.1" />
<line x1="370.35" y1="346.4" x2="370.35" y2="348.4" stroke="#444" stroke-width="1.1" />
<line x1="384.6" y1="346.4" x2="384.6" y2="349.8" stroke="#444" stroke-width="1.1" />
<line x1="398.85" y1="346.4" x2="398.85" y2="348.4" stroke="#444" stroke-width="1.1" />
<line x1="413.1" y1="346.4" x2="413.1" y2="349.8" stroke="#444" stroke-width="1.1" />
<line x1="427.35" y1="346.4" x2="427.35" y2="348.4" stroke="#444" stroke-width="1.1" />
<line x1="441.6" y1="346.4" x2="441.6" y2="349.8" stroke="#444" stroke-width="1.1" />
<line x1="455.85" y1="346.4" x2="455.85" y2="348.4" stroke="#444" stroke-width="1.1" />
<line x1="470.1" y1="346.4" x2="470.1" y2="349.8" stroke="#444" stroke-width="1.1" />
<line x1="499.5" y1="346.4" x2="499.5" y2="349.8" stroke="#444" stroke-width="1.1" />
<text x="327.6" y="360" font-size="11.5" text-anchor="middle" font-weight="normal" >-2</text>
<text x="356.1" y="360" font-size="11.5" text-anchor="middle" font-weight="normal" >0</text>
<text x="384.6" y="360" font-size="11.5" text-anchor="middle" font-weight="normal" >2</text>
<text x="413.1" y="360" font-size="11.5" text-anchor="middle" font-weight="normal" >4</text>
<text x="441.6" y="360" font-size="11.5" text-anchor="middle" font-weight="normal" >6</text>
<text x="470.1" y="360" font-size="11.5" text-anchor="middle" font-weight="normal" >8</text>
<text x="499.5" y="360" font-size="11.5" text-anchor="middle" font-weight="normal" >24</text>
<line x1="327.4" y1="261.3" x2="356.1" y2="274.5" stroke="#8c8c8c" stroke-width="1" stroke-dasharray="1.2 1.6"/>
<line x1="356.1" y1="274.5" x2="370.5" y2="281.3" stroke="#8c8c8c" stroke-width="1" stroke-dasharray="1.2 1.6"/>
<line x1="370.5" y1="281.3" x2="384.5" y2="309.6" stroke="#8c8c8c" stroke-width="1" stroke-dasharray="1.2 1.6"/>
<line x1="384.5" y1="309.6" x2="398.8" y2="304.4" stroke="#8c8c8c" stroke-width="1" stroke-dasharray="1.2 1.6"/>
<line x1="398.8" y1="304.4" x2="412.9" y2="309.2" stroke="#8c8c8c" stroke-width="1" stroke-dasharray="1.2 1.6"/>
<line x1="412.9" y1="309.2" x2="441.3" y2="308.2" stroke="#8c8c8c" stroke-width="1" stroke-dasharray="1.2 1.6"/>
<line x1="441.3" y1="308.2" x2="470.3" y2="299.6" stroke="#8c8c8c" stroke-width="1" stroke-dasharray="1.2 1.6"/>
<line x1="470.3" y1="299.6" x2="499.9" y2="273.3" stroke="#8c8c8c" stroke-width="1" stroke-dasharray="1.2 1.6"/>
<line x1="327.4" y1="249.5" x2="356.1" y2="263.4" stroke="#5e5e5e" stroke-width="1" />
<line x1="356.1" y1="263.4" x2="370.5" y2="270.5" stroke="#5e5e5e" stroke-width="1" />
<line x1="370.5" y1="270.5" x2="384.5" y2="298.2" stroke="#5e5e5e" stroke-width="1" />
<line x1="384.5" y1="298.2" x2="398.8" y2="296" stroke="#5e5e5e" stroke-width="1" />
<line x1="398.8" y1="296" x2="412.9" y2="296.2" stroke="#5e5e5e" stroke-width="1" />
<line x1="412.9" y1="296.2" x2="441.3" y2="296.2" stroke="#5e5e5e" stroke-width="1" />
<line x1="441.3" y1="296.2" x2="470.3" y2="299.2" stroke="#5e5e5e" stroke-width="1" />
<line x1="470.3" y1="299.2" x2="499.9" y2="271.7" stroke="#5e5e5e" stroke-width="1" />
<line x1="327.5" y1="233.5" x2="327.5" y2="249.5" stroke="#999" stroke-width="1" />
<line x1="324.7" y1="233.5" x2="330.3" y2="233.5" stroke="#999" stroke-width="1" />
<line x1="356.5" y1="247.5" x2="356.5" y2="263.5" stroke="#999" stroke-width="1" />
<line x1="353.7" y1="247.5" x2="359.3" y2="247.5" stroke="#999" stroke-width="1" />
<line x1="370.5" y1="254.5" x2="370.5" y2="270.5" stroke="#999" stroke-width="1" />
<line x1="367.7" y1="254.5" x2="373.3" y2="254.5" stroke="#999" stroke-width="1" />
<line x1="384.5" y1="282.5" x2="384.5" y2="298.5" stroke="#999" stroke-width="1" />
<line x1="381.7" y1="282.5" x2="387.3" y2="282.5" stroke="#999" stroke-width="1" />
<line x1="398.5" y1="281.5" x2="398.5" y2="296.5" stroke="#999" stroke-width="1" />
<line x1="395.7" y1="281.5" x2="401.3" y2="281.5" stroke="#999" stroke-width="1" />
<line x1="412.5" y1="280.5" x2="412.5" y2="296.5" stroke="#999" stroke-width="1" />
<line x1="409.7" y1="280.5" x2="415.3" y2="280.5" stroke="#999" stroke-width="1" />
<line x1="441.5" y1="279.5" x2="441.5" y2="296.5" stroke="#999" stroke-width="1" />
<line x1="438.7" y1="279.5" x2="444.3" y2="279.5" stroke="#999" stroke-width="1" />
<line x1="470.5" y1="284.5" x2="470.5" y2="299.5" stroke="#999" stroke-width="1" />
<line x1="467.7" y1="284.5" x2="473.3" y2="284.5" stroke="#999" stroke-width="1" />
<line x1="499.5" y1="253.5" x2="499.5" y2="271.5" stroke="#999" stroke-width="1" />
<line x1="496.7" y1="253.5" x2="502.3" y2="253.5" stroke="#999" stroke-width="1" />
<line x1="327.5" y1="261.5" x2="327.5" y2="284.5" stroke="#999" stroke-width="1" />
<line x1="324.7" y1="284.5" x2="330.3" y2="284.5" stroke="#999" stroke-width="1" />
<line x1="356.5" y1="274.5" x2="356.5" y2="298.5" stroke="#999" stroke-width="1" />
<line x1="353.7" y1="298.5" x2="359.3" y2="298.5" stroke="#999" stroke-width="1" />
<line x1="370.5" y1="281.5" x2="370.5" y2="304.5" stroke="#999" stroke-width="1" />
<line x1="367.7" y1="304.5" x2="373.3" y2="304.5" stroke="#999" stroke-width="1" />
<line x1="384.5" y1="309.5" x2="384.5" y2="332.5" stroke="#999" stroke-width="1" />
<line x1="381.7" y1="332.5" x2="387.3" y2="332.5" stroke="#999" stroke-width="1" />
<line x1="398.5" y1="304.5" x2="398.5" y2="321.5" stroke="#999" stroke-width="1" />
<line x1="395.7" y1="321.5" x2="401.3" y2="321.5" stroke="#999" stroke-width="1" />
<line x1="412.5" y1="309.5" x2="412.5" y2="330.5" stroke="#999" stroke-width="1" />
<line x1="409.7" y1="330.5" x2="415.3" y2="330.5" stroke="#999" stroke-width="1" />
<line x1="441.5" y1="308.5" x2="441.5" y2="331.5" stroke="#999" stroke-width="1" />
<line x1="438.7" y1="331.5" x2="444.3" y2="331.5" stroke="#999" stroke-width="1" />
<line x1="470.5" y1="299.5" x2="470.5" y2="319.5" stroke="#999" stroke-width="1" />
<line x1="467.7" y1="319.5" x2="473.3" y2="319.5" stroke="#999" stroke-width="1" />
<line x1="499.5" y1="273.5" x2="499.5" y2="297.5" stroke="#999" stroke-width="1" />
<line x1="496.7" y1="297.5" x2="502.3" y2="297.5" stroke="#999" stroke-width="1" />
<circle cx="327.4" cy="261.3" r="3.6" fill="#fff" stroke="#000" stroke-width="1"/>
<circle cx="356.1" cy="274.5" r="3.6" fill="#fff" stroke="#000" stroke-width="1"/>
<circle cx="370.5" cy="281.3" r="3.6" fill="#fff" stroke="#000" stroke-width="1"/>
<circle cx="384.5" cy="309.6" r="3.6" fill="#fff" stroke="#000" stroke-width="1"/>
<circle cx="398.8" cy="304.4" r="3.6" fill="#fff" stroke="#000" stroke-width="1"/>
<circle cx="412.9" cy="309.2" r="3.6" fill="#fff" stroke="#000" stroke-width="1"/>
<circle cx="441.3" cy="308.2" r="3.6" fill="#fff" stroke="#000" stroke-width="1"/>
<circle cx="470.3" cy="299.6" r="3.6" fill="#fff" stroke="#000" stroke-width="1"/>
<circle cx="499.9" cy="273.3" r="3.6" fill="#fff" stroke="#000" stroke-width="1"/>
<rect x="324" y="246" width="7" height="7" fill="#000"/>
<rect x="353" y="260" width="7" height="7" fill="#000"/>
<rect x="367" y="267" width="7" height="7" fill="#000"/>
<rect x="381" y="295" width="7" height="7" fill="#000"/>
<rect x="395" y="292" width="7" height="7" fill="#000"/>
<rect x="409" y="293" width="7" height="7" fill="#000"/>
<rect x="438" y="293" width="7" height="7" fill="#000"/>
<rect x="467" y="296" width="7" height="7" fill="#000"/>
<rect x="496" y="268" width="7" height="7" fill="#000"/>
<text transform="translate(12.9,104) rotate(-90)" font-size="14.05" text-anchor="middle">E-selectin (ng/mL)</text>
<text transform="translate(286.5,97.8) rotate(-90)" font-size="14.05" text-anchor="middle">P-selectin (ng/mL)</text>
<text transform="translate(14,260.1) rotate(-90)" font-size="14.05" text-anchor="middle">Elastase (ng/mL)</text>
<text transform="translate(286.2,273.2) rotate(-90)" font-size="14.05" text-anchor="middle">platelet counts (x10<tspan font-size="8.2" dy="-7.3">9</tspan><tspan dy="7.3">/L)</tspan></text>
<text x="185.6" y="379" font-size="14.2" text-anchor="start" font-weight="normal" >hours relative to LPS infusion</text>
<text x="1.1" y="19.8" font-size="25" text-anchor="start" font-weight="bold" fill="#000">A</text>
<text x="272.6" y="18.5" font-size="25" text-anchor="start" font-weight="bold" fill="#000">B</text>
<text x="0.8" y="198.5" font-size="25" text-anchor="start" font-weight="bold" fill="#000">C</text>
<text x="272.4" y="195.4" font-size="25" text-anchor="start" font-weight="bold" fill="#000">D</text>
<line x1="56.2" y1="5.9" x2="83" y2="5.9" stroke="#999" stroke-width="1.1" stroke-dasharray="2 1.2"/>
<circle cx="69.9" cy="5.9" r="2.8" fill="#fff" stroke="#444" stroke-width="1"/>
<text x="86.9" y="9.6" font-size="11.4" text-anchor="start" font-weight="normal" >Placebo;</text>
<line x1="135" y1="5.9" x2="162" y2="5.9" stroke="#888" stroke-width="1.2" />
<rect x="146.2" y="3.4" width="4.8" height="4.7" fill="#000"/>
<text x="165.5" y="9.6" font-size="11.4" text-anchor="start" font-weight="normal" >rhAPC</text>
<line x1="65" y1="17.5" x2="178" y2="17.5" stroke="#222" stroke-width="1.1" />
<path d="M176.5,15 L184.3,17.5 L176.5,20 Z" fill="#111"/>
</g></svg>
</body></html>
